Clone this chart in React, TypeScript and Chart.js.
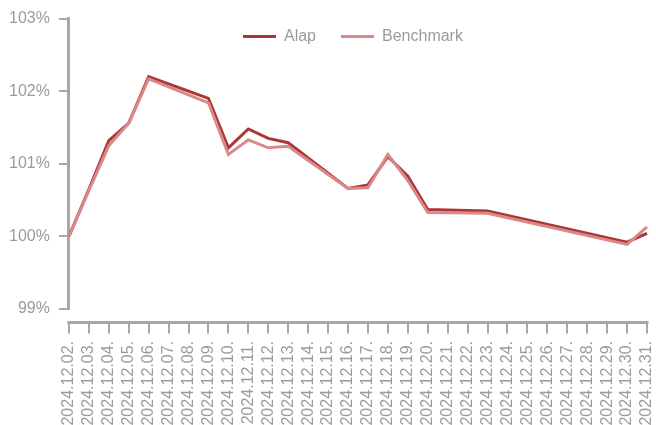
import { useEffect, useRef } from "react";
import { Chart, registerables } from "chart.js";

Chart.register(...registerables);

const dates = [
  "2024.12.02.", "2024.12.03.", "2024.12.04.", "2024.12.05.", "2024.12.06.",
  "2024.12.07.", "2024.12.08.", "2024.12.09.", "2024.12.10.", "2024.12.11.",
  "2024.12.12.", "2024.12.13.", "2024.12.14.", "2024.12.15.", "2024.12.16.",
  "2024.12.17.", "2024.12.18.", "2024.12.19.", "2024.12.20.", "2024.12.21.",
  "2024.12.22.", "2024.12.23.", "2024.12.24.", "2024.12.25.", "2024.12.26.",
  "2024.12.27.", "2024.12.28.", "2024.12.29.", "2024.12.30.", "2024.12.31.",
];

const alap = [
  100, 100.65, 101.32, 101.56, 102.2, null, null, 101.9, 101.22, 101.48,
  101.35, 101.29, null, null, 100.66, 100.71, 101.1, 100.83, 100.37, null,
  null, 100.35, null, null, null, null, null, null, 99.92, 100.04,
];

const benchmark = [
  100, 100.63, 101.25, 101.56, 102.17, null, null, 101.84, 101.13, 101.33,
  101.22, 101.24, null, null, 100.66, 100.67, 101.13, 100.77, 100.33, null,
  null, 100.32, null, null, null, null, null, null, 99.89, 100.13,
];

const yTicks = [99, 100, 101, 102, 103];

const axisColor = "#a8a8a8";
const textColor = "#9b9b9b";
const alapColor = "#ab3636";
const benchColor = "#d88a8a";
const font = { family: "'Liberation Sans', Arial, sans-serif", size: 16 };

// Legend overlays the plot: it sits at the top but reserves only a small height.
const legendOverlayPlugin = {
  id: "legendOverlay",
  beforeLayout(chart: any) {
    const lg = chart.legend;
    if (lg && !lg._overlayPatched) {
      const orig = lg.fit;
      lg.fit = function (this: any) {
        orig.call(this);
        this.height = 15;
      };
      lg._overlayPatched = true;
    }
  },
  afterLayout(chart: any) {
    const lg = chart.legend;
    if (lg) {
      lg.bottom = lg.top + 60;
      lg.height = 60;
      lg.left -= 5;
      lg.right -= 5;
    }
  },
};

const xAxisLinePlugin = {
  id: "xAxisLine",
  afterDraw(chart: any) {
    const xs = chart.scales.x;
    const ctx = chart.ctx;
    const y = chart.chartArea.bottom + 13.5;
    ctx.save();
    ctx.strokeStyle = axisColor;
    ctx.lineWidth = 3;
    ctx.beginPath();
    ctx.moveTo(xs.left - 1.5, y);
    ctx.lineTo(xs.right + 1.5, y);
    ctx.stroke();
    ctx.lineWidth = 2;
    ctx.beginPath();
    for (let i = 0; i < xs.ticks.length; i++) {
      const px = Math.round(xs.getPixelForTick(i));
      ctx.moveTo(px, y);
      ctx.lineTo(px, y + 11);
    }
    ctx.stroke();
    ctx.restore();
  },
};

export default function App() {
  const ref = useRef<HTMLCanvasElement | null>(null);

  useEffect(() => {
    document.body.style.margin = "0";
    const canvas = ref.current;
    if (!canvas) return;
    const chart = new Chart(canvas, {
      type: "line",
      data: {
        labels: dates,
        datasets: [
          {
            label: "Alap",
            data: alap,
            borderColor: alapColor,
            backgroundColor: alapColor,
            borderWidth: 3,
            pointRadius: 0,
            tension: 0,
            spanGaps: true,
            order: 2,
          },
          {
            label: "Benchmark",
            data: benchmark,
            borderColor: benchColor,
            backgroundColor: benchColor,
            borderWidth: 3,
            pointRadius: 0,
            tension: 0,
            spanGaps: true,
            order: 1,
          },
        ],
      },
      options: {
        responsive: false,
        animation: false,
        layout: { padding: { left: 0, top: 3, right: 0, bottom: 0 } },
        plugins: {
          tooltip: { enabled: false },
          legend: {
            position: "top",
            align: "center",
            fullSize: false,
            labels: {
              boxWidth: 33,
              boxHeight: 3,
              padding: 25,
              color: textColor,
              font,
              sort: (a: any, b: any) => a.datasetIndex - b.datasetIndex,
              generateLabels: (chart: any) =>
                Chart.defaults.plugins.legend.labels
                  .generateLabels(chart)
                  .map((it: any) => ({ ...it, lineWidth: 0, fillStyle: it.strokeStyle })),
            },
          },
        },
        scales: {
          x: {
            type: "category",
            offset: false,
            grid: { display: false, drawTicks: false },
            border: { display: false },
            ticks: {
              autoSkip: false,
              maxRotation: 90,
              minRotation: 90,
              padding: 32,
              color: textColor,
              font,
            },
            afterFit: (s: any) => {
              s.height = 116;
              s.paddingRight = 9;
            },
          },
          y: {
            min: 99,
            max: 103,
            afterBuildTicks: (s: any) => {
              s.ticks = yTicks.map((v) => ({ value: v }));
            },
            grid: {
              drawOnChartArea: false,
              drawTicks: true,
              tickLength: 10,
              color: axisColor,
              lineWidth: 2,
            },
            border: { display: true, color: axisColor, width: 3 },
            ticks: {
              padding: 9,
              color: textColor,
              font,
              callback: (v: any) => `${v}%`,
            },
          },
        },
      },
      plugins: [legendOverlayPlugin, xAxisLinePlugin],
    } as any);
    return () => chart.destroy();
  }, []);

  return <canvas ref={ref} width={656} height={425} style={{ display: "block" }} />;
}
